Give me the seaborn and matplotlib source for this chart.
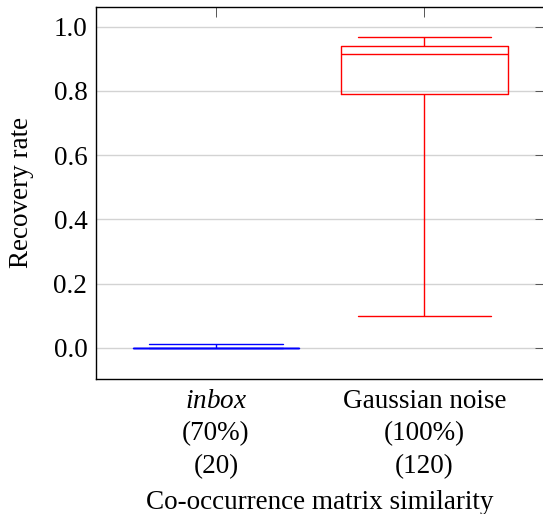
import numpy as np
import pandas as pd
import matplotlib
matplotlib.use("Agg")
import matplotlib.pyplot as plt
import seaborn as sns

# Data (values chosen so the five-number summaries match the picture)
categories = ["inbox", "Gaussian noise"]
inbox_values = [0.0, 0.0, 0.0, 0.0, 0.0137]
gaussian_values = [0.10, 0.791, 0.914, 0.939, 0.967]
tick_labels = ["$\\mathit{inbox}$\n(70%)\n(20)", "Gaussian noise\n(100%)\n(120)"]
colors = ["blue", "red"]

df = pd.DataFrame({
    "category": [categories[0]] * len(inbox_values) + [categories[1]] * len(gaussian_values),
    "value": inbox_values + gaussian_values,
})

sns.set_style("white")
plt.rcParams["font.family"] = ["Liberation Serif", "DejaVu Serif"]
plt.rcParams["mathtext.fontset"] = "custom"
plt.rcParams["mathtext.it"] = "Liberation Serif:italic"
plt.rcParams["mathtext.rm"] = "Liberation Serif"
plt.rcParams["text.color"] = "black"
plt.rcParams["axes.labelcolor"] = "black"
plt.rcParams["xtick.labelcolor"] = "black"
plt.rcParams["ytick.labelcolor"] = "black"

FS = 19.5
fig = plt.figure(figsize=(5.43, 5.14), dpi=100)
ax = fig.add_axes([95.7 / 543, 1 - 379 / 514, (544.6 - 95.7) / 543, (379 - 6.5) / 514])

sns.boxplot(data=df, x="category", y="value", hue="category", order=categories,
            palette=dict(zip(categories, colors)), fill=False, width=0.8,
            whis=(0, 100), linewidth=1.0, legend=False, ax=ax, zorder=3)

# caps width adjustment (caps are 0.64 of category spacing)
for ln in ax.lines:
    xd = np.asarray(ln.get_xdata(), dtype=float)
    yd = np.asarray(ln.get_ydata(), dtype=float)
    if len(xd) == 2 and yd[0] == yd[1]:
        w = abs(xd[1] - xd[0])
        if 0.3 < w < 0.5:
            c = xd.mean()
            ln.set_xdata([c - 0.32, c + 0.32])

ax.set_xlim(-0.5775, 1.5775)
ax.set_ylim(-0.0966, 1.0626)
ax.set_yticks([0.0, 0.2, 0.4, 0.6, 0.8, 1.0])
ax.set_yticklabels(["0.0", "0.2", "0.4", "0.6", "0.8", "1.0"])
ax.set_xticks([0, 1])
ax.set_xticklabels(tick_labels)
for t in ax.get_xticklabels():
    t.set_linespacing(1.4)

ax.grid(True, axis="y", color="#d3d3d3", linewidth=1.0, zorder=0)
ax.set_axisbelow(True)
ax.tick_params(axis="both", which="both", direction="in", length=7.5, width=0.7,
               color="#555555", labelsize=FS, labelcolor="black", top=True, right=True)
ax.tick_params(axis="y", pad=6)
ax.tick_params(axis="x", pad=7)
for sp in ax.spines.values():
    sp.set_color("black")
    sp.set_linewidth(1.0)

ax.set_xlabel("Co-occurrence matrix similarity", fontsize=FS, labelpad=8, color="black")
ax.set_ylabel("Recovery rate", fontsize=FS, labelpad=14, color="black")

fig.savefig("out.png", dpi=100)
